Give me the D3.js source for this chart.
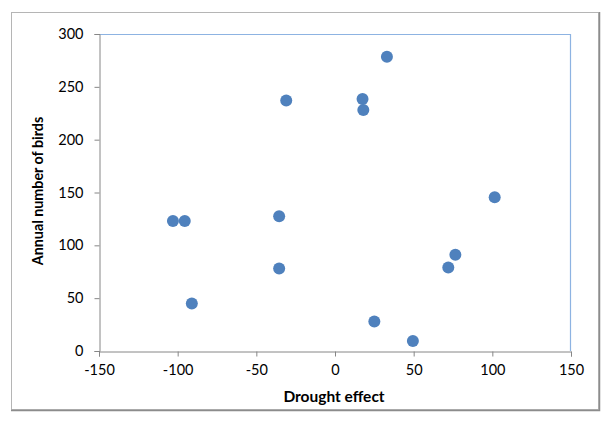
<!DOCTYPE html>
<html>
<head>
<meta charset="utf-8">
<script src="https://cdn.jsdelivr.net/npm/d3@7"></script>
<style>
  html, body { margin: 0; padding: 0; background: #fff; }
  svg { display: block; }
</style>
</head>
<body>
<svg id="chart" width="610" height="426"></svg>
<script>
// Data
const droughtEffect = [-103, -95.5, -91, -31, -35.5, -35.5, 17.5, 18, 33, 25, 49.5, 72, 76.5, 101.5];
const annualBirds   = [123, 123, 45, 237, 127.5, 78, 238.5, 228, 278.5, 28, 9.5, 79, 91, 145.5];
const xTicks = [-150, -100, -50, 0, 50, 100, 150];
const yTicks = [0, 50, 100, 150, 200, 250, 300];
const xTitle = "Drought effect";
const yTitle = "Annual number of birds";

const svg = d3.select("#chart");
const font = "Lato, 'Open Sans', sans-serif";

// outer chart border
svg.append("rect").attr("x", 11.5).attr("y", 12.5).attr("width", 587).attr("height", 397)
  .attr("fill", "#fff").attr("stroke", "#b5b5b5").attr("stroke-width", 1);
svg.append("path").attr("d", "M599.5,12 V410.5 H11")
  .attr("fill", "none").attr("stroke", "#8c8c8c").attr("stroke-width", 1.5);

const L = 99, R = 571, T = 34, B = 351;
const x = d3.scaleLinear().domain([-150, 150]).range([L, R]);
const y = d3.scaleLinear().domain([0, 300]).range([B, T]);

// plot area top & right borders (blue)
svg.append("path").attr("d", `M${L},${T + 0.5} H${R - 0.5} V${B}`)
  .attr("fill", "none").attr("stroke", "#8db3e2").attr("stroke-width", 1.2);

const fmt = d => String(d);

// x axis
const xAxis = svg.append("g").attr("transform", `translate(0,${B + 0.5})`)
  .call(d3.axisBottom(x).tickValues(xTicks).tickSize(5).tickPadding(8).tickFormat(fmt));
xAxis.select(".domain").attr("stroke", "#868686");
xAxis.selectAll(".tick line").attr("stroke", "#868686");
xAxis.selectAll("text").attr("font-family", font).attr("font-size", 14.5).attr("fill", "#000");

// y axis
const yAxis = svg.append("g").attr("transform", `translate(${L + 0.5},0)`)
  .call(d3.axisLeft(y).tickValues(yTicks).tickSize(5).tickPadding(11).tickFormat(fmt));
yAxis.select(".domain").attr("stroke", "#868686");
yAxis.selectAll(".tick line").attr("stroke", "#868686");
yAxis.selectAll("text").attr("font-family", font).attr("font-size", 14.5).attr("fill", "#000");

// axis titles
svg.append("text").attr("x", 334).attr("y", 402).attr("text-anchor", "middle")
  .attr("font-family", font).attr("font-weight", "bold").attr("font-size", 15.5).text(xTitle);
svg.append("text").attr("transform", "translate(43,191) rotate(-90)").attr("text-anchor", "middle")
  .attr("font-family", font).attr("font-weight", "bold").attr("font-size", 14.3).text(yTitle);

// points
svg.append("g").selectAll("circle")
  .data(droughtEffect.map((d, i) => [d, annualBirds[i]]))
  .join("circle")
  .attr("cx", d => x(d[0])).attr("cy", d => y(d[1])).attr("r", 6)
  .attr("fill", "#4f81bd");
</script>
</body>
</html>
